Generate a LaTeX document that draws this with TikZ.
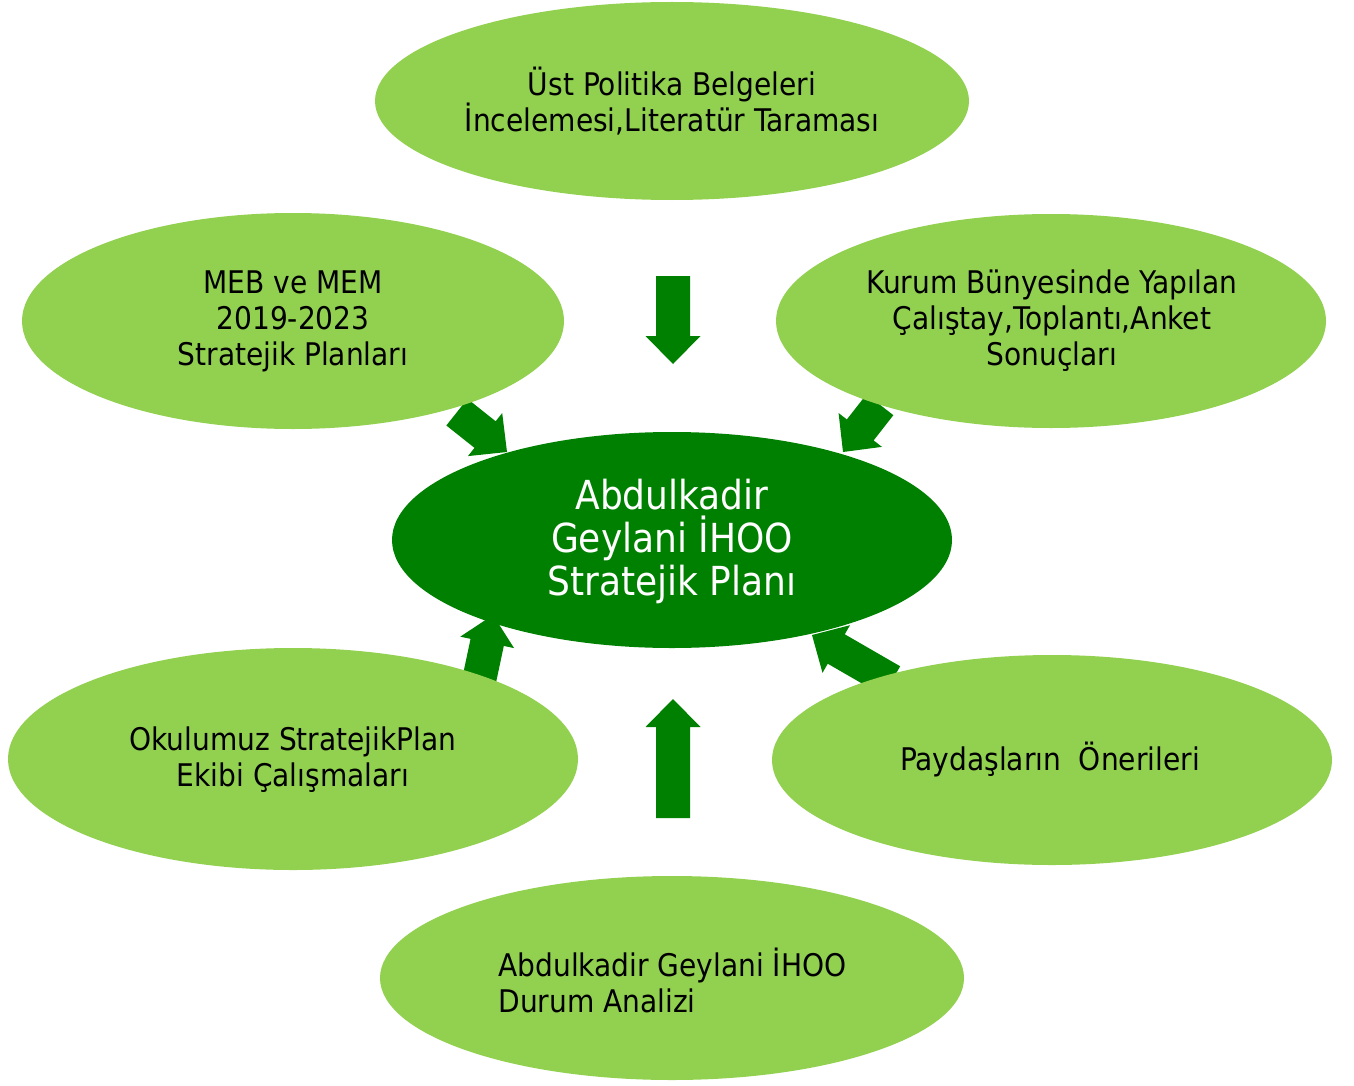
\documentclass[tikz,border=0pt]{standalone}
\usepackage{fontspec}
\setmainfont{DejaVu Sans Condensed}
\definecolor{lightg}{HTML}{92D050}
\definecolor{darkg}{HTML}{008000}
\newcommand\blkarrow[4]{% tip x, tip y, screen angle, length
  \begin{scope}[shift={(#1,#2)},rotate=#3]
    \fill[darkg] (0,0) -- (-28,27.5) -- (-28,17) -- (-#4,17) -- (-#4,-17) -- (-28,-17) -- (-28,-27.5) -- cycle;
  \end{scope}}
\begin{document}
\begin{tikzpicture}[x=0.5pt,y=-0.5pt,
  txt/.style={font=\fontsize{15.6}{18}\selectfont,align=center,inner sep=0},
  ctxt/.style={font=\fontsize{20}{21.5}\selectfont,align=center,text=white,inner sep=0}]
\useasboundingbox (0,0) rectangle (1354,1086);
% arrows (beneath ellipses)
\blkarrow{673}{364}{-90}{88}
\blkarrow{673}{699}{90}{119}
\blkarrow{507}{452}{-38.5}{64}
\blkarrow{843}{452}{-128}{60}
\blkarrow{493}{615}{78}{66}
\blkarrow{812}{635}{150}{92}
% ellipses
\fill[lightg] (672,101) ellipse [x radius=297, y radius=99];
\fill[lightg] (293,321) ellipse [x radius=271, y radius=108];
\fill[lightg] (1051,321) ellipse [x radius=275, y radius=107];
\fill[lightg] (293,759) ellipse [x radius=285, y radius=111];
\fill[lightg] (1052,760) ellipse [x radius=280, y radius=105];
\fill[lightg] (672,978) ellipse [x radius=292, y radius=102];
\fill[darkg] (672,540) ellipse [x radius=280, y radius=108];
% texts
\node[txt] (top) at (672,101) {Üst Politika Belgeleri\\İncelemesi,Literatür Taraması};
\node[txt] (lu) at (293,321) {MEB ve MEM\\2019-2023\\Stratejik Planları};
\node[txt] (ru) at (1052,321) {Kurum Bünyesinde Yapılan\\Çalıştay,Toplantı,Anket\\Sonuçları};
\node[ctxt] (center) at (672,541) {Abdulkadir\\Geylani İHOO\\Stratejik Planı};
\node[txt] (ll) at (293,760) {Okulumuz StratejikPlan\\Ekibi Çalışmaları};
\node[txt] (rl) at (1050,759) {Paydaşların\ \ Önerileri};
\node[txt,align=left,anchor=west] (bot) at (498,980) {Abdulkadir Geylani İHOO\\Durum Analizi};
\end{tikzpicture}
\end{document}
